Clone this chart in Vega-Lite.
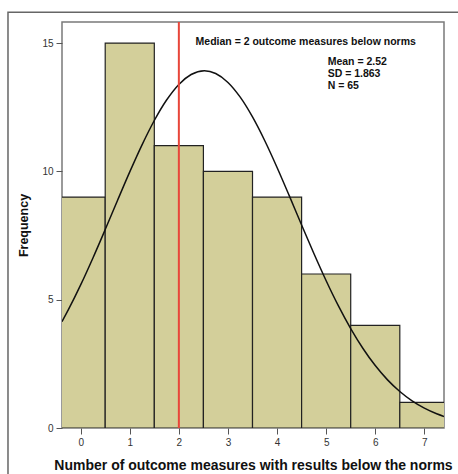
{
  "$schema": "https://vega.github.io/schema/vega-lite/v6.json",
  "width": 382,
  "height": 406,
  "autosize": "none",
  "padding": {"left": 62, "top": 22, "right": 14, "bottom": 46},
  "background": "white",
  "config": {
    "view": {"stroke": "#7a7a7a", "strokeWidth": 1.5},
    "font": "Liberation Sans",
    "axis": {
      "domain": false,
      "grid": false,
      "tickColor": "#555",
      "tickSize": 6,
      "labelFontSize": 10,
      "labelColor": "#333",
      "labelPadding": 3,
      "titleFontSize": 14,
      "titleFontWeight": "bold",
      "titleColor": "#111"
    }
  },
  "datasets": {
    "bars": [
      {"lo": -0.5, "hi": 0.5, "count": 9},
      {"lo": 0.5, "hi": 1.5, "count": 15},
      {"lo": 1.5, "hi": 2.5, "count": 11},
      {"lo": 2.5, "hi": 3.5, "count": 10},
      {"lo": 3.5, "hi": 4.5, "count": 9},
      {"lo": 4.5, "hi": 5.5, "count": 6},
      {"lo": 5.5, "hi": 6.5, "count": 4},
      {"lo": 6.5, "hi": 7.5, "count": 1}
    ],
    "curve": [
      {"x": -0.38, "y": 4.144}, {"x": -0.25, "y": 4.609}, {"x": 0, "y": 5.576},
      {"x": 0.25, "y": 6.626}, {"x": 0.5, "y": 7.732}, {"x": 0.75, "y": 8.864},
      {"x": 1, "y": 9.979}, {"x": 1.25, "y": 11.034}, {"x": 1.5, "y": 11.982},
      {"x": 1.75, "y": 12.779}, {"x": 2, "y": 13.388}, {"x": 2.25, "y": 13.774},
      {"x": 2.52, "y": 13.919}, {"x": 2.75, "y": 13.813}, {"x": 3, "y": 13.465},
      {"x": 3.25, "y": 12.891}, {"x": 3.5, "y": 12.121}, {"x": 3.75, "y": 11.194},
      {"x": 4, "y": 10.153}, {"x": 4.25, "y": 9.045}, {"x": 4.5, "y": 7.913},
      {"x": 4.75, "y": 6.8}, {"x": 5, "y": 5.739}, {"x": 5.25, "y": 4.757},
      {"x": 5.5, "y": 3.873}, {"x": 5.75, "y": 3.097}, {"x": 6, "y": 2.432},
      {"x": 6.25, "y": 1.875}, {"x": 6.5, "y": 1.421}, {"x": 6.75, "y": 1.057},
      {"x": 7, "y": 0.773}, {"x": 7.25, "y": 0.554}, {"x": 7.4, "y": 0.45}
    ],
    "notes": [
      {"label": "Median = 2 outcome measures below norms", "x": 2.34, "y": 15.04},
      {"label": "Mean = 2.52", "x": 5.03, "y": 14.28},
      {"label": "SD = 1.863", "x": 5.03, "y": 13.8},
      {"label": "N = 65", "x": 5.03, "y": 13.32}
    ]
  },
  "layer": [
    {
      "data": {"name": "bars"},
      "mark": {"type": "rect", "fill": "#d3cf9a", "stroke": "#222", "strokeWidth": 1.2, "clip": true},
      "encoding": {
        "x": {"field": "lo", "type": "quantitative",
              "scale": {"domain": [-0.38, 7.4], "nice": false, "zero": false},
              "axis": {"values": [0, 1, 2, 3, 4, 5, 6, 7], "title": "Number of outcome measures with results below the norms", "titleY": 37, "titleBaseline": "middle"}},
        "x2": {"field": "hi"},
        "y": {"field": "count", "type": "quantitative",
              "scale": {"domain": [0, 15.82], "nice": false},
              "axis": {"values": [0, 5, 10, 15], "title": "Frequency", "titleX": -39, "titleBaseline": "middle", "titleFontSize": 12.5}},
        "y2": {"datum": 0}
      }
    },
    {
      "data": {"name": "curve"},
      "mark": {"type": "line", "color": "#111", "strokeWidth": 1.5, "interpolate": "monotone", "clip": true},
      "encoding": {
        "x": {"field": "x", "type": "quantitative"},
        "y": {"field": "y", "type": "quantitative"}
      }
    },
    {
      "data": {"values": [{"median": 2}]},
      "mark": {"type": "rule", "color": "#e8463a", "strokeWidth": 2},
      "encoding": {"x": {"field": "median", "type": "quantitative"}}
    },
    {
      "data": {"name": "notes"},
      "mark": {"type": "text", "align": "left", "baseline": "middle", "fontWeight": "bold", "fontSize": 10.5, "color": "#111"},
      "encoding": {
        "x": {"field": "x", "type": "quantitative"},
        "y": {"field": "y", "type": "quantitative"},
        "text": {"field": "label"}
      }
    },
    {
      "data": {"values": [{"left": -1.48, "right": 9, "top": 16.2, "bottom": -3}]},
      "mark": {"type": "rect", "fill": null, "stroke": "#666", "strokeWidth": 1.5, "clip": false},
      "encoding": {
        "x": {"field": "left", "type": "quantitative"},
        "x2": {"field": "right"},
        "y": {"field": "top", "type": "quantitative"},
        "y2": {"field": "bottom"}
      }
    }
  ]
}
